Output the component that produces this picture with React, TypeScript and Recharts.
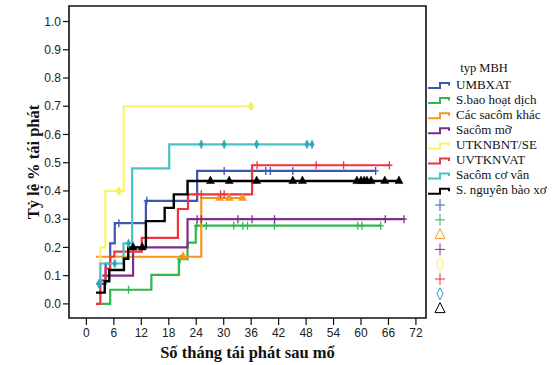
import React from 'react';
import { LineChart, Line, XAxis, YAxis, ReferenceArea, Label } from 'recharts';

const xTicks = [0, 6, 12, 18, 24, 30, 36, 42, 48, 54, 60, 66, 72];
const yTicks = [0, 0.1, 0.2, 0.3, 0.4, 0.5, 0.6, 0.7, 0.8, 0.9, 1.0];

// [tháng, tỷ lệ tái phát tích lũy] at each step
const umbxatSteps = [[2.1, 0.071], [4.2, 0.143], [5.2, 0.214], [6.2, 0.286], [13.0, 0.365], [24.2, 0.471]];
const umbxatCensored = [7.1, 13.2, 30.1, 39.2, 40.2, 45.1, 63.2];

const sbaoSteps = [[3.05, 0], [5.2, 0.05], [14.2, 0.103], [20.2, 0.158], [22.1, 0.217], [23.9, 0.277]];
const sbaoCensored = [9.2, 20.5, 24.1, 26.2, 32.2, 34.2, 35.2, 41.1, 59.3, 60.2, 64.3];

const khacSteps = [[2.1, 0.167], [25.1, 0.375]];
const khacCensored = [21.1, 29.1, 31.2, 34.1];

const moSteps = [[3.5, 0.1], [10.2, 0.2], [22.1, 0.3]];
const moCensored = [24.2, 25.1, 33.1, 36.2, 41.1, 65.3, 69.4];

const utkSteps = [[2.1, 0], [3.05, 0.2], [4.15, 0.4], [8.15, 0.7]];
const utkCensored = [7.05, 36.0];

const uvtSteps = [[2.1, 0], [3.05, 0.083], [4.2, 0.125], [5.2, 0.167], [6.1, 0.185], [12.1, 0.234], [20.0, 0.336], [22.2, 0.388], [36.2, 0.491]];
const uvtCensored = [24.2, 25.1, 29.3, 30.1, 37.3, 50.2, 56.2, 66.2];

const covanSteps = [[2.1, 0.071], [3.05, 0.143], [8.1, 0.214], [10.0, 0.48], [18.1, 0.565]];
const covanCensored = [2.7, 6.2, 9.2, 25.1, 30.1, 37.2, 48.2, 49.3];

const xoSteps = [[2.1, 0.04], [4.0, 0.08], [5.0, 0.12], [8.2, 0.16], [9.15, 0.2], [13.0, 0.293], [17.1, 0.34], [19.1, 0.388], [22.1, 0.435]];
const xoCensored = [10.2, 12.2, 27.1, 31.2, 37.2, 45.1, 47.2, 59.1, 60.0, 60.7, 61.3, 62.2, 65.2, 68.3];

function buildSeries(steps: number[][], censored: number[]) {
  const rows = steps.map(([t, p]) => ({ t, p, c: false }));
  censored.forEach((t) => {
    let p = steps[0][1];
    steps.forEach(([st, sp]) => {
      if (st <= t) p = sp;
    });
    rows.push({ t, p, c: true });
  });
  rows.sort((a, b) => a.t - b.t);
  return rows;
}

const series = [
  { name: 'UMBXAT', color: '#3b57b0', mark: 'plus', markColor: '#3b57b0', data: buildSeries(umbxatSteps, umbxatCensored) },
  { name: 'S.bao hoạt dịch', color: '#2fb84b', mark: 'plus', markColor: '#2fb84b', data: buildSeries(sbaoSteps, sbaoCensored) },
  { name: 'Các sacôm khác', color: '#f7961e', mark: 'tri', markColor: '#f7961e', data: buildSeries(khacSteps, khacCensored) },
  { name: 'Sacôm mỡ', color: '#7d2f8c', mark: 'plus', markColor: '#7d2f8c', data: buildSeries(moSteps, moCensored) },
  { name: 'UTKNBNT/SE', color: '#f9f46c', mark: 'oval', markColor: '#f4ee5a', data: buildSeries(utkSteps, utkCensored) },
  { name: 'UVTKNVAT', color: '#ee3340', mark: 'plus', markColor: '#ee3340', data: buildSeries(uvtSteps, uvtCensored) },
  { name: 'Sacôm cơ vân', color: '#48c2c6', mark: 'diamond', markColor: '#2fa6b8', data: buildSeries(covanSteps, covanCensored) },
  { name: 'S. nguyên bào xơ', color: '#000000', mark: 'tri', markColor: '#000000', data: buildSeries(xoSteps, xoCensored) },
];

const serif = '"Liberation Serif", "Times New Roman", serif';
const sans = '"Liberation Sans", Arial, sans-serif';

function censorMark(mark: string, color: string) {
  return (props: any) => {
    const { cx, cy, payload, index } = props;
    const key = `m-${mark}-${color}-${index}`;
    if (!payload || !payload.c || cx == null || cy == null) return <g key={key} />;
    if (mark === 'plus') {
      return (
        <path key={key} d={`M${cx - 3},${cy} H${cx + 3} M${cx},${cy - 4} V${cy + 4}`} stroke={color} strokeWidth={1.3} fill="none" />
      );
    }
    if (mark === 'tri') {
      return <path key={key} d={`M${cx},${cy - 5} L${cx + 4},${cy + 2.5} L${cx - 4},${cy + 2.5} Z`} fill={color} stroke={color} strokeWidth={0.5} />;
    }
    if (mark === 'oval') {
      return <ellipse key={key} cx={cx} cy={cy} rx={2.3} ry={4} fill={color} />;
    }
    return <path key={key} d={`M${cx},${cy - 4.5} L${cx + 2},${cy} L${cx},${cy + 4.5} L${cx - 2},${cy} Z`} fill={color} stroke={color} strokeWidth={0.6} />;
  };
}

function LegendMark({ mark, color, x, y }: { mark: string; color: string; x: number; y: number }) {
  if (mark === 'plus') {
    return <path d={`M${x - 5},${y} H${x + 5} M${x},${y - 6} V${y + 6}`} stroke={color} strokeWidth={1} fill="none" />;
  }
  if (mark === 'tri') {
    return <path d={`M${x},${y - 6} L${x + 5},${y + 4} L${x - 5},${y + 4} Z`} fill="none" stroke={color} strokeWidth={1} />;
  }
  if (mark === 'oval') {
    return <ellipse cx={x} cy={y} rx={3} ry={6} fill="none" stroke={color} strokeWidth={1} />;
  }
  return <path d={`M${x},${y - 6} L${x + 3},${y} L${x},${y + 6} L${x - 3},${y} Z`} fill="none" stroke={color} strokeWidth={1} />;
}

function ChartLegend() {
  const legendMarkColors = ['#3b57b0', '#2fb84b', '#f7961e', '#7d2f8c', '#f4ee5a', '#ee3340', '#3399cc', '#000000'];
  return (
    <svg width={559} height={365} style={{ position: 'absolute', left: 0, top: 0, pointerEvents: 'none' }}>
      <text x={484} y={68} textAnchor="middle" dominantBaseline="central" fontFamily={serif} fontSize={12.5} fill="#111">
        typ MBH
      </text>
      {series.map((s, i) => {
        const y = 84 + i * 15.1;
        return (
          <g key={s.name}>
            <path d={`M428,${y + 4} H440 V${y - 1} H449 V${y + 1.5}`} stroke={s.color} strokeWidth={2} fill="none" />
            <text x={456} y={y} dominantBaseline="central" fontFamily={serif} fontSize={13} fill="#111">
              {s.name}
            </text>
          </g>
        );
      })}
      {series.map((s, i) => (
        <LegendMark key={`lm-${s.name}`} mark={s.mark} color={legendMarkColors[i]} x={440} y={205 + i * 14.8} />
      ))}
    </svg>
  );
}

export default function App() {
  return (
    <div style={{ position: 'absolute', left: 0, top: 0, width: 559, height: 365, background: '#fff' }}>
      <LineChart width={559} height={365} margin={{ top: 6, right: 133, bottom: 0, left: 0 }}>
        <ReferenceArea x1={-3.8} x2={74.2} y1={-0.05} y2={1.055} fill="none" stroke="#111" strokeWidth={1.6} ifOverflow="visible" />
        <XAxis
          type="number"
          dataKey="t"
          domain={[-3.8, 74.2]}
          allowDataOverflow
          ticks={xTicks}
          interval={0}
          axisLine={false}
          tickLine={{ stroke: '#111', strokeWidth: 1.2 }}
          tickSize={7}
          tickMargin={3}
          height={47}
          tick={{ fill: '#222', fontSize: 12, fontFamily: sans }}
        >
          <Label value="Số tháng tái phát sau mổ" position="insideBottom" offset={7} style={{ fontFamily: serif, fontWeight: 'bold', fontSize: 16.5, fill: '#111' }} />
        </XAxis>
        <YAxis
          type="number"
          dataKey="p"
          domain={[-0.05, 1.055]}
          allowDataOverflow
          ticks={yTicks}
          interval={0}
          width={69}
          axisLine={false}
          tickLine={{ stroke: '#111', strokeWidth: 1.2 }}
          tickSize={6}
          tickMargin={2}
          tickFormatter={(v: number) => v.toFixed(1)}
          tick={{ fill: '#222', fontSize: 12, fontFamily: sans }}
        >
          <Label
            content={(props: any) => {
              const vb = props.viewBox || { x: 0, y: 6, width: 69, height: 312 };
              const cx = vb.x + 33;
              const cy = vb.y + vb.height / 2;
              return (
                <text
                  x={cx}
                  y={cy}
                  transform={`rotate(-90 ${cx} ${cy})`}
                  textAnchor="middle"
                  dominantBaseline="central"
                  fontFamily={serif}
                  fontWeight="bold"
                  fontSize={16.5}
                  fill="#111"
                >
                  Tỷ lệ % tái phát
                </text>
              );
            }}
          />
        </YAxis>
        {series.map((s) => (
          <Line
            key={s.name}
            data={s.data}
            dataKey="p"
            name={s.name}
            type="stepAfter"
            stroke={s.color}
            strokeWidth={s.color === '#000000' ? 2.4 : 2.2}
            dot={censorMark(s.mark, s.markColor)}
            activeDot={false}
            isAnimationActive={false}
          />
        ))}
      </LineChart>
      <ChartLegend />
    </div>
  );
}
